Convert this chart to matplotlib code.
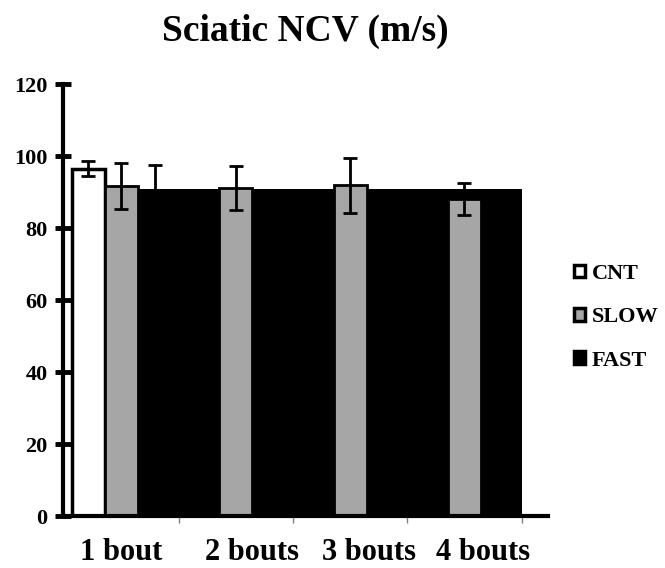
import matplotlib
matplotlib.use("Agg")
import matplotlib.pyplot as plt
import matplotlib.transforms as mtransforms
from matplotlib.patches import Patch
import numpy as np

plt.rcParams['font.family'] = ['Liberation Serif', 'DejaVu Serif']
plt.rcParams['font.weight'] = 'bold'

# data
groups = ['1 bout', '2 bouts', '3 bouts', '4 bouts']
cnt = [96.5, np.nan, np.nan, np.nan]
cnt_err = [2.1, np.nan, np.nan, np.nan]
slow = [91.7, 91.1, 91.9, 88.0]
slow_err = [6.4, 6.2, 7.6, 4.4]
fast = [90.7, 90.7, 90.7, 90.7]
fast_err = [6.8, np.nan, np.nan, np.nan]

grey = '#a6a6a6'

fig = plt.figure(figsize=(6.65, 5.68), dpi=100)
ax = fig.add_axes([63/665, 52/568, 485/665, 432/568])

x = np.arange(len(groups))
w = 0.29

# FAST series shows up as one black block behind the other bars
left = x - 0.5
left[0] = x[0] + w/2
right = x + 0.5
ax.bar(left, fast, width=right - left, align='edge', color='black', lw=0, zorder=1)
ax.errorbar(x + w, fast, yerr=fast_err, fmt='none', ecolor='black',
            elinewidth=2, capsize=5, capthick=2, zorder=3)

ax.bar(x - w, cnt, w, color='white', edgecolor='black', lw=2.5, zorder=2)
ax.errorbar(x - w, cnt, yerr=cnt_err, fmt='none', ecolor='black',
            elinewidth=2, capsize=5, capthick=2, zorder=3)

ax.bar(x, slow, w, color=grey, edgecolor='black', lw=2, zorder=2)
ax.errorbar(x, slow, yerr=slow_err, fmt='none', ecolor='black',
            elinewidth=2, capsize=5, capthick=2, zorder=3)

ax.set_xlim(-0.51, 3.73)
ax.set_ylim(0, 120)
ax.set_yticks(range(0, 121, 20))

for s in ['top', 'right']:
    ax.spines[s].set_visible(False)
ax.spines['left'].set_linewidth(3)
ax.spines['bottom'].set_linewidth(3)

ax.tick_params(axis='y', direction='inout', length=12, width=3.5, labelsize=16, pad=5)
ax.set_xticks(x + 0.5)
ax.tick_params(axis='x', which='major', length=5, width=1, color='#808080', labelbottom=False)
ax.set_xticks(x, minor=True)
ax.set_xticklabels(groups, minor=True)
ax.tick_params(axis='x', which='minor', length=0, labelsize=22, pad=16)

shifts = [0, 16, 19, 19]
for lab, dx in zip(ax.xaxis.get_minorticklabels(), shifts):
    lab.set_transform(lab.get_transform() + mtransforms.ScaledTranslation(dx/100, 0, fig.dpi_scale_trans))

handles = [Patch(facecolor='white', edgecolor='black', lw=2.5),
           Patch(facecolor=grey, edgecolor='black', lw=2.5),
           Patch(facecolor='black', edgecolor='black', lw=2.5)]
ax.legend(handles, ['CNT', 'SLOW', 'FAST'], loc='upper left',
          bbox_to_anchor=(574/665, 1 - 264/568), bbox_transform=fig.transFigure,
          frameon=False, fontsize=16, handlelength=0.5, handleheight=0.5,
          handletextpad=0.3, labelspacing=1.05, borderpad=0, borderaxespad=0)

fig.text(305/665, 1 - 31/568, 'Sciatic NCV (m/s)', ha='center', va='center',
         fontsize=27, weight='bold')

fig.savefig('out.png', dpi=100)
